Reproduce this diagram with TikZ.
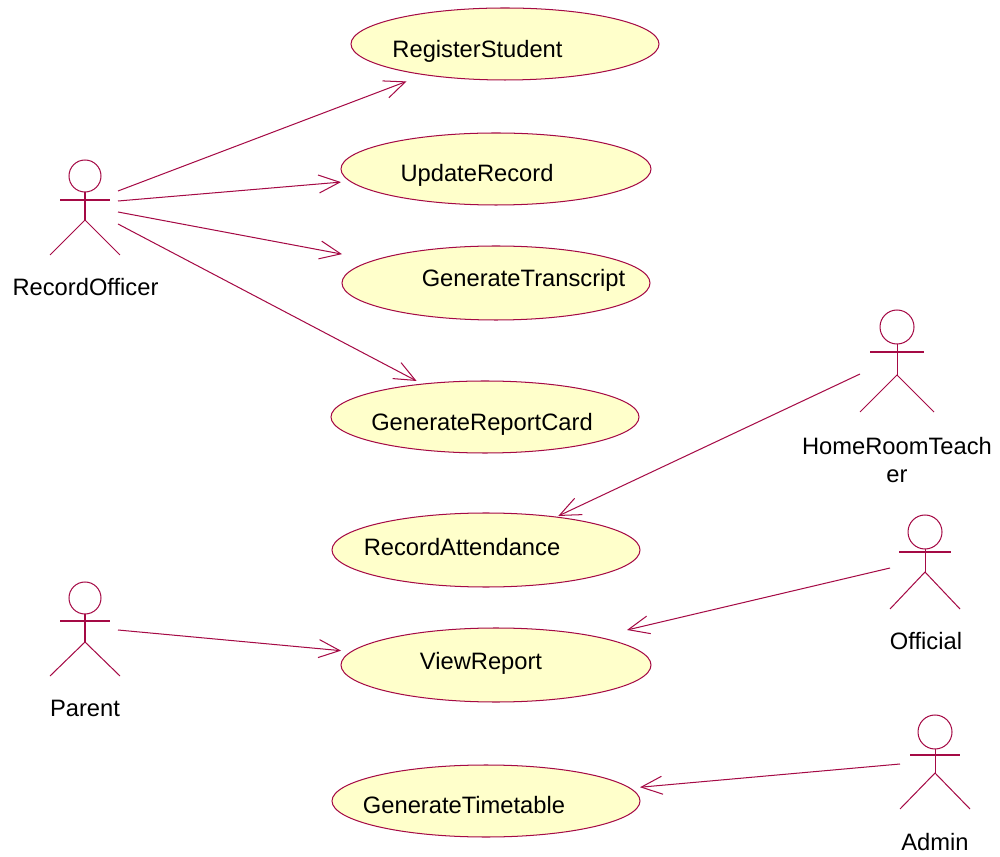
\documentclass[tikz,border=0pt]{standalone}
\usepackage{fontspec}
\setmainfont{Liberation Sans}
\usepackage{xcolor}
\usetikzlibrary{arrows.meta}

\definecolor{rosered}{HTML}{A50A45}
\definecolor{rosefill}{HTML}{FFFFCB}

\begin{document}
\begin{tikzpicture}[x=0.02cm, y=-0.02cm,
        rosebox/.style={rectangle, inner sep=0pt, outer sep=0pt},
        roseline/.style={rosered, line width=0.58pt},
        assoc/.style={roseline, -{Straight Barb[length=4.2mm, width=3.6mm]}},
        rosetext/.style={font=\fontsize{13.5}{16.4}\selectfont, text=black, anchor=base, inner sep=0pt}]
        \useasboundingbox (0, 0) rectangle (1000, 857);

        % use cases
        \foreach \cname/\cx/\cy/\ew/\eh in {RegisterStudent/505/44/154/36, UpdateRecord/496/169/155/36,
                GenerateTranscript/496/283/154/37, GenerateReportCard/485/417/154/36,
                RecordAttendance/486/550/154/37, ViewReport/496/665/155/37, GenerateTimetable/486/801/154/36} {
            \draw[roseline, fill=rosefill] (\cx, \cy) ellipse ({\ew*0.02cm} and {\eh*0.02cm});
            \node[rosebox, minimum width=2*\ew*0.02cm, minimum height=2*\eh*0.02cm] (\cname) at (\cx, \cy) {};
        }

        \node[rosetext] (registerText) at (477.5, 58) {RegisterStudent};
        \node[rosetext] (updateText) at (477, 182) {UpdateRecord};
        \node[rosetext] (transcriptText) at (523.5, 287) {GenerateTranscript};
        \node[rosetext] (reportText) at (482, 431) {GenerateReportCard};
        \node[rosetext] (attendanceText) at (462, 556) {RecordAttendance};
        \node[rosetext] (viewText) at (481, 669) {ViewReport};
        \node[rosetext] (timetableText) at (464, 813) {GenerateTimetable};

        % actors
        \foreach \ax/\hy/\hr/\ay/\aw/\by/\ly/\lw in {85/176/16/200/25/220/255/35, 85/598/16/621/25/642/676/35,
                897/327/17/352/27/375/412/37, 925/532/17/552/26/572/609/35, 935/732/17/755/25/773/809/35} {
            \draw[roseline] (\ax, \hy) circle ({\hr*0.02cm});
            \draw[roseline] (\ax, \hy+\hr) -- (\ax, \by);
            \draw[roseline] (\ax-\aw, \ay) -- (\ax+\aw, \ay);
            \draw[roseline] (\ax-\lw, \ly) -- (\ax, \by) -- (\ax+\lw, \ly);
        }

        \node[rosetext] (RecordOfficer) at (85.5, 295.5) {RecordOfficer};
        \node[rosetext] (Parent) at (85, 716) {Parent};
        \node[rosetext, anchor=center, align=center] (HomeRoomTeacher) at (897, 460) {HomeRoomTeach\\er};
        \node[rosetext] (Official) at (926, 649) {Official};
        \node[rosetext] (Admin) at (935, 850) {Admin};

        % connector ends
        \coordinate (officerA) at (118, 191);
        \coordinate (officerB) at (118, 201);
        \coordinate (officerC) at (118, 212);
        \coordinate (officerD) at (118, 224);
        \coordinate (parentOut) at (118, 630);
        \coordinate (teacherOut) at (860, 374);
        \coordinate (officialOut) at (890, 568);
        \coordinate (adminOut) at (900, 764);
        \coordinate (viewIn) at (627, 630);

        \draw[assoc, shorten >=0.08cm] (officerA) -- (RegisterStudent);
        \draw[assoc] (officerB) -- (UpdateRecord);
        \draw[assoc] (officerC) -- (GenerateTranscript);
        \draw[assoc] (officerD) -- (GenerateReportCard);
        \draw[assoc, shorten >=-0.14cm] (teacherOut) -- (RecordAttendance);
        \draw[assoc] (parentOut) -- (ViewReport);
        \draw[assoc] (officialOut) -- (viewIn);
        \draw[assoc] (adminOut) -- (GenerateTimetable);
    \end{tikzpicture}
\end{document}
